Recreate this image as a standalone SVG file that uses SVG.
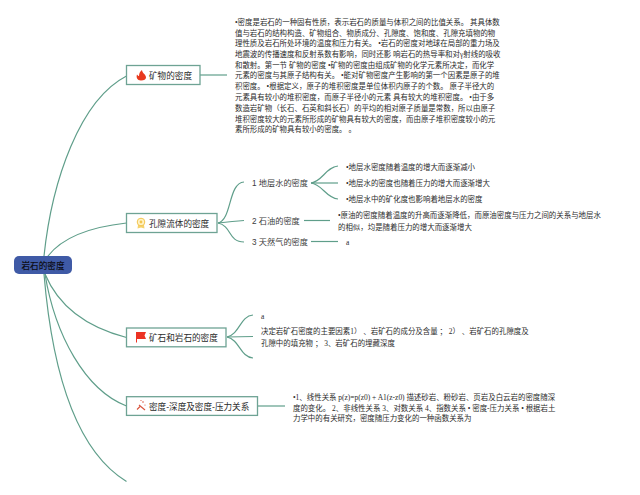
<svg xmlns="http://www.w3.org/2000/svg" width="640" height="495" viewBox="0 0 640 495">
<style>
.c{fill:none;stroke:#5f9e8a;stroke-width:1.200}
.b{fill:#fff;stroke:#6ea394;stroke-width:1.300}
.l{font:8.6px "Liberation Sans","Noto Sans CJK SC",sans-serif;fill:#2b2b2b}
.s{font:8.2px "Liberation Sans","Noto Sans CJK SC",sans-serif;fill:#3c3c3c}
.t{font:7.45px "Liberation Serif","Noto Sans CJK SC",serif;fill:#2b2b2b}
</style>
<rect width="640" height="495" fill="#fff"/>
<g id="connectors">
<path class="c" d="M44 256C52 180 80 100 126.500 76"/>
<path class="c" d="M48 256C62 238 90 227 126.500 223"/>
<path class="c" d="M45 274C60 310 90 328 126.500 337.500"/>
<path class="c" d="M45 274C55 335 85 390 126.500 406"/>
<path class="c" d="M44 274C52 370 75 450 126.500 481.500"/>
<path class="c" d="M200 75H227"/>
<path class="c" d="M218 223C232 220 228 183 244 182"/>
<path class="c" d="M218 223C226 222 235 221 244 220.500"/>
<path class="c" d="M218 223C232 226 228 242 244 242"/>
<path class="c" d="M311 183C322 182 326 167 338 166"/>
<path class="c" d="M311 183H338"/>
<path class="c" d="M311 183C322 184 326 198 338 199"/>
<path class="c" d="M304 220.500H330"/>
<path class="c" d="M311 241.500H338"/>
<path class="c" d="M227 337C240 334 240 316 253 315"/>
<path class="c" d="M227 337L253 336.500"/>
<path class="c" d="M227 337C240 340 240 357 253 358"/>
<path class="c" d="M258 406H285"/>
</g>
<g id="root">
<rect x="14" y="256" width="58" height="18" rx="5" fill="#3f5aa6"/>
<text x="43" y="268.500" text-anchor="middle" font-family="'Liberation Sans','Noto Sans CJK SC',sans-serif" font-size="8.600" font-weight="500" fill="#0c0c14">岩石的密度</text>
</g>
<g id="node-mineral">
<rect class="b" x="126.500" y="65.500" width="73.500" height="19"/>
<path d="M141 80.500C137 80.500 136 77 137 74.500C138 75.500 138.500 76 139 76C139 73 140.500 71 142 70C142 73 146 74.500 146 77.500C146 79.500 144 80.500 141 80.500Z" fill="#e8391d"/>
<text class="l" x="149" y="78.500">矿物的密度</text>
</g>
<g id="node-fluid">
<rect class="b" x="126.500" y="213.500" width="90.500" height="19"/>
<path d="M138 225L137.500 228.500L141 227.500L144.500 228.500L144 225Z" fill="#f6d26b"/>
<circle cx="141" cy="222" r="3.800" fill="#fff3c8" stroke="#f3c64f" stroke-width="1"/>
<circle cx="141" cy="222" r="1.400" fill="#f3c64f"/>
<text class="l" x="149" y="226.500">孔隙流体的密度</text>
</g>
<g id="node-ore">
<rect class="b" x="126.500" y="328" width="99.500" height="18.800"/>
<path d="M136 332H146L144.500 335.500L146 339H137V342.500H136Z" fill="#ec3323"/>
<text class="l" x="149" y="341">矿石和岩石的密度</text>
</g>
<g id="node-depth">
<rect class="b" x="126.500" y="396.700" width="131" height="18.700"/>
<path d="M139 405L145 410" stroke="#d9533b" stroke-width="1.100" fill="none"/>
<path d="M137 409.500L140 406.500" stroke="#d9533b" stroke-width="1.100" fill="none"/>
<circle cx="143" cy="402" r=".8" fill="#d9533b"/>
<circle cx="141" cy="400.500" r=".6" fill="#d9533b"/>
<circle cx="145" cy="405" r=".6" fill="#d9533b"/>
<text class="l" x="149" y="409.500">密度-深度及密度-压力关系</text>
</g>
<g id="text-mineral">
<text class="t" x="235" y="25">•密度是岩石的一种固有性质，表示岩石的质量与体积之间的比值关系。 其具体数</text>
<text class="t" x="235" y="35.700">值与岩石的结构构造、矿物组合、物质成分、孔隙度、饱和度、孔隙充填物的物</text>
<text class="t" x="235" y="46.300">理性质及岩石所处环境的温度和压力有关。 •岩石的密度对地球在局部的重力场及</text>
<text class="t" x="235" y="57">地震波的传播速度和反射系数有影响，同时还影 响岩石的热导率和对γ射线的吸收</text>
<text class="t" x="235" y="67.700">和散射。第一节 矿物的密度 •矿物的密度由组成矿物的化学元素所决定，而化学</text>
<text class="t" x="235" y="78.300">元素的密度与其原子结构有关。 •能对矿物密度产生影响的第一个因素是原子的堆</text>
<text class="t" x="235" y="89">积密度。 •根据定义，原子的堆积密度是单位体积内原子的个数。 原子半径大的</text>
<text class="t" x="235" y="100.300">元素具有较小的堆积密度，而原子半径小的元素 具有较大的堆积密度。 •由于多</text>
<text class="t" x="235" y="111">数造岩矿物（长石、石英和斜长石）的平均的相对原子质量是常数，所以由原子</text>
<text class="t" x="235" y="121.700">堆积密度较大的元素所形成的矿物具有较大的密度，而由原子堆积密度较小的元</text>
<text class="t" x="235" y="132.300">素所形成的矿物具有较小的密度。 。</text>
</g>
<g id="fluid-items">
<text class="s" x="252" y="186">1 地层水的密度</text>
<text class="s" x="252" y="224">2 石油的密度</text>
<text class="s" x="252" y="245">3 天然气的密度</text>
<text class="t" x="346" y="170">•地层水密度随着温度的增大而逐渐减小</text>
<text class="t" x="346" y="186">•地层水的密度也随着压力的增大而逐渐增大</text>
<text class="t" x="346" y="202">•地层水中的矿化度也影响着地层水的密度</text>
<text class="t" x="338" y="218">•原油的密度随着温度的升高而逐渐降低，而原油密度与压力之间的关系与地层水</text>
<text class="t" x="338" y="229.500">的相似，均是随着压力的增大而逐渐增大</text>
<text class="t" x="346" y="245">a</text>
</g>
<g id="ore-items">
<text class="t" x="261" y="319">a</text>
<text class="t" x="261" y="334">决定岩矿石密度的主要因素1） 、岩矿石的成分及含量 ； 2） 、岩矿石的孔隙度及</text>
<text class="t" x="261" y="345.500">孔隙中的填充物 ； 3、岩矿石的埋藏深度</text>
</g>
<g id="depth-items">
<text class="t" x="293" y="400">•1、线性关系 p(z)=p(z0) + A1(z-z0) 描述砂岩、粉砂岩、页岩及白云岩的密度随深</text>
<text class="t" x="293" y="410.500">度的变化。 2、非线性关系 3、对数关系 4、指数关系 • 密度-压力关系 • 根据岩土</text>
<text class="t" x="293" y="421">力学中的有关研究，密度随压力变化的一种函数关系为</text>
</g>
</svg>
